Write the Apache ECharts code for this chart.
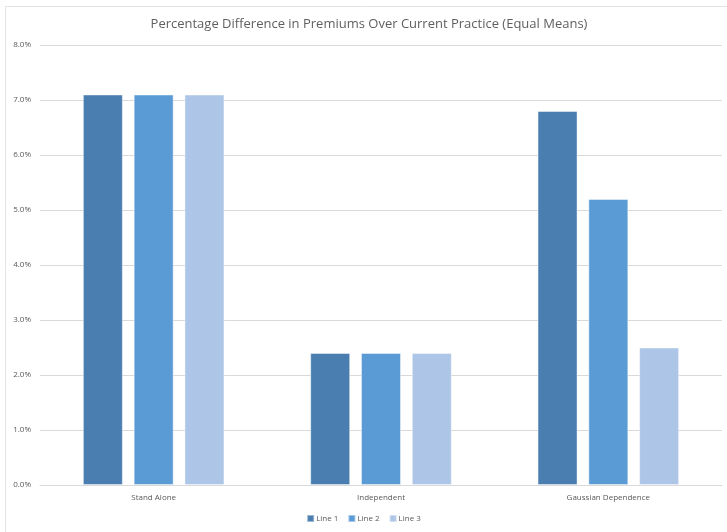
<!DOCTYPE html>
<html>
<head>
<meta charset="utf-8">
<script src="https://cdn.jsdelivr.net/npm/echarts@6/dist/echarts.min.js"></script>
<style>
  html, body { margin: 0; padding: 0; background: #fff; }
  #chart { width: 727px; height: 532px; }
</style>
</head>
<body>
<div id="chart"></div>
<script>
// Scenario categories and the premium differences (in %) for each line
const categories = ['Stand Alone', 'Independent', 'Gaussian Dependence'];
const line1 = [7.1, 2.4, 6.8];
const line2 = [7.1, 2.4, 5.2];
const line3 = [7.1, 2.4, 2.5];
const seriesNames = ['Line 1', 'Line 2', 'Line 3'];
const yTicks = { min: 0, max: 8, interval: 1 };

const colors = ['#4a7eb0', '#5b9bd5', '#adc5e6'];
const textColor = '#595959';
const fontFamily = '"Open Sans", "Liberation Sans", sans-serif';

const chart = echarts.init(document.getElementById('chart'), null, { renderer: 'canvas' });

const values = [line1, line2, line3];
const series = seriesNames.map((name, i) => ({
  name: name,
  type: 'bar',
  data: values[i],
  barWidth: 40,
  barGap: '27%',
  itemStyle: {
    color: colors[i],
    borderColor: 'rgba(255,255,255,0.45)',
    borderWidth: 1
  }
}));

chart.setOption({
  animation: false,
  backgroundColor: '#fff',
  color: colors,
  title: {
    text: 'Percentage Difference in Premiums Over Current Practice (Equal Means)',
    left: 364,
    textAlign: 'center',
    top: 13,
    textStyle: {
      fontFamily: fontFamily,
      fontWeight: 'normal',
      fontSize: 13,
      color: '#5f5f5f'
    }
  },
  legend: {
    data: seriesNames,
    bottom: 4,
    left: 'center',
    itemWidth: 7,
    itemHeight: 7,
    itemGap: 9,
    icon: 'rect',
    textStyle: { fontFamily: fontFamily, fontSize: 8, color: textColor, padding: [0, 0, 0, -3] }
  },
  grid: { left: 40, right: 5, top: 45, bottom: 47, containLabel: false },
  xAxis: {
    type: 'category',
    data: categories,
    axisLine: { lineStyle: { color: '#d9d9d9', width: 1 } },
    axisTick: { show: false },
    axisLabel: { fontFamily: fontFamily, fontSize: 8, color: textColor, margin: 9 }
  },
  yAxis: {
    type: 'value',
    min: yTicks.min,
    max: yTicks.max,
    interval: yTicks.interval,
    axisLine: { show: false },
    axisTick: { show: false },
    splitLine: { lineStyle: { color: '#d9d9d9', width: 1 } },
    axisLabel: {
      fontFamily: fontFamily,
      fontSize: 8,
      color: textColor,
      margin: 9,
      formatter: v => v.toFixed(1) + '%'
    }
  },
  graphic: [
    // chart frame: top and left edges
    { type: 'line', silent: true, shape: { x1: 5.5, y1: 6.5, x2: 727, y2: 6.5 }, style: { stroke: '#e3e3e3', lineWidth: 1 } },
    { type: 'line', silent: true, shape: { x1: 5.5, y1: 6.5, x2: 5.5, y2: 532 }, style: { stroke: '#e3e3e3', lineWidth: 1 } }
  ],
  series: series
});
</script>
</body>
</html>
